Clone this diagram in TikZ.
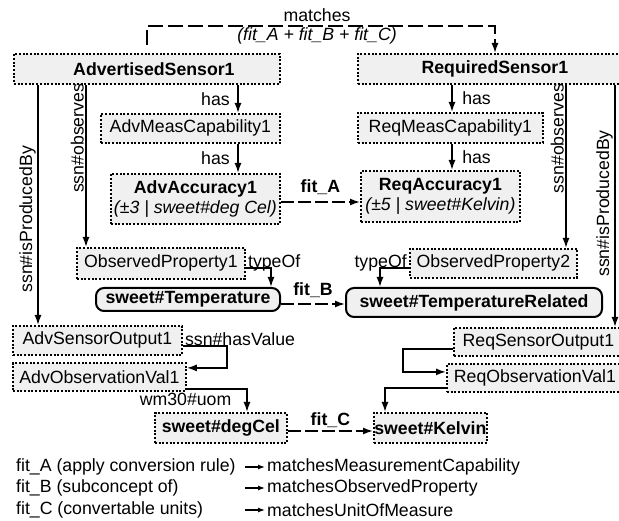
\documentclass[tikz,border=0pt]{standalone}
\usepackage{fontspec}
\setmainfont{Liberation Sans}
\usetikzlibrary{arrows.meta}
\definecolor{boxfill}{RGB}{240,240,240}
\newcommand\fsz{\fontsize{17.7}{20.5}\selectfont}
\begin{document}
\begin{tikzpicture}[x=1pt,y=-1pt,
  font=\fsz,
  box/.style={draw=black, fill=boxfill, line width=1.8pt, dash pattern=on 2pt off 1.7pt, inner sep=0pt, anchor=north west},
  rbox/.style={draw=black, fill=boxfill, line width=2pt, rounded corners=8pt, inner sep=0pt, anchor=north west, font=\fsz\bfseries},
  conn/.style={line width=1.6pt, -{Latex[length=10pt,width=7pt]}},
  dconn/.style={conn, dash pattern=on 13pt off 4pt},
  lbl/.style={inner sep=1.5pt},
  blbl/.style={inner sep=1.5pt, font=\fsz\bfseries},
  legarr/.style={line width=1.2pt, -{Latex[length=7pt,width=5pt]}},
]
\useasboundingbox (0,0) rectangle (619,521);
\clip (0,0) rectangle (619,521);

% nodes
\node[box, font=\fsz\bfseries, minimum width=266pt, minimum height=30pt] (advs) at (13,53) {\hspace*{14pt}AdvertisedSensor1};
\node[box, font=\fsz\bfseries, minimum width=274pt, minimum height=30pt] (reqs) at (357,53) {RequiredSensor1};
\node[box, minimum width=179pt, minimum height=29pt] (advmc) at (100,113) {AdvMeasCapability1};
\node[box, minimum width=185pt, minimum height=30pt] (reqmc) at (357,112) {ReqMeasCapability1};
\node[box, align=center, minimum width=169pt, minimum height=50pt] (advacc) at (110,173) {\textbf{AdvAccuracy1}\\\textit{(±3 | sweet\#deg Cel)}};
\node[box, align=center, minimum width=159pt, minimum height=51pt] (reqacc) at (360,170) {\textbf{ReqAccuracy1}\\\textit{(±5 | sweet\#Kelvin)}};
\node[box, minimum width=168pt, minimum height=31pt] (op1) at (76,247) {ObservedProperty1};
\node[box, minimum width=167pt, minimum height=29pt] (op2) at (409,248) {ObservedProperty2};
\node[rbox, minimum width=184pt, minimum height=23pt] (temp) at (95,287) {sweet\#Temperature};
\node[rbox, minimum width=256pt, minimum height=29pt] (trel) at (345,287) {sweet\#TemperatureRelated};
\node[box, minimum width=169pt, minimum height=29pt] (aso) at (12,325) {AdvSensorOutput1};
\node[box, minimum width=173pt, minimum height=28pt] (aov) at (12,362) {AdvObservationVal1};
\node[box, font=\fsz\bfseries, minimum width=132pt, minimum height=30pt] (degc) at (154,412) {sweet\#degCel};
\node[box, font=\fsz\bfseries, minimum width=113pt, minimum height=30pt] (kel) at (373,412) {sweet\#Kelvin};
\node[box, minimum width=169pt, minimum height=28pt] (rso) at (453,327) {ReqSensorOutput1};
\node[box, minimum width=176pt, minimum height=28pt] (rov) at (446,363) {ReqObservationVal1};

% helper coordinates
\coordinate (xhasL) at (238,0);
\coordinate (xhasR) at (452,0);
\coordinate (xprodL) at (38,0);
\coordinate (xobsL) at (86,0);
\coordinate (xobsR) at (566,0);
\coordinate (xprodR) at (615,0);
\coordinate (xtypL) at (271,0);
\coordinate (xtypR) at (380,0);
\coordinate (yfa) at (0,202);
\coordinate (yfb) at (0,304);
\coordinate (yfc) at (0,431);
\coordinate (mst) at (147,45);
\coordinate (mtop) at (495,26);
\coordinate (hvx) at (227,0);
\coordinate (uomx) at (247,0);
\coordinate (rsx) at (403,0);
\coordinate (kx) at (385,0);
\coordinate (legx) at (245,0);
\coordinate (aovin) at ([yshift=9pt]aov.east);
\coordinate (rovin) at ([yshift=6pt]rov.west);

% matches
\draw[dconn, dash pattern=on 15pt off 5pt] (mst) |- (mtop) -- (reqs.north -| mtop);
\node[lbl, anchor=base] (mlab) at (317,22) {matches};
\node[lbl, anchor=base, font=\fsz\itshape] (mlab2) at (317,41) {(fit\_A + fit\_B + fit\_C)};

% has
\draw[conn] (advs.south -| xhasL) -- node[lbl, left=6pt] (h1) {has} (advmc.north -| xhasL);
\draw[conn] (advmc.south -| xhasL) -- node[lbl, left=6pt] (h2) {has} (advacc.north -| xhasL);
\draw[conn] (reqs.south -| xhasR) -- node[lbl, right=8pt] (h3) {has} (reqmc.north -| xhasR);
\draw[conn] (reqmc.south -| xhasR) -- node[lbl, right=8pt] (h4) {has} (reqacc.north -| xhasR);

% long verticals
\draw[conn] (advs.south -| xprodL) -- node[lbl, pos=0.56, rotate=90, anchor=south] (p1) {ssn\#isProducedBy} (aso.north -| xprodL);
\draw[conn] (advs.south -| xobsL) -- node[lbl, pos=0.33, rotate=90, anchor=south] (o1) {ssn\#observes} (op1.north -| xobsL);
\draw[conn] (reqs.south -| xobsR) -- node[lbl, pos=0.33, rotate=90, anchor=south] (o2) {ssn\#observes} (op2.north -| xobsR);
\draw[conn] (reqs.south -| xprodR) -- node[lbl, pos=0.49, rotate=90, anchor=south] (p2) {ssn\#isProducedBy} (rso.north -| xprodR);

% typeOf
\draw[conn] ([yshift=-4.5pt]op1.east) node[lbl, anchor=base west] (t1) {typeOf} -| (temp.north -| xtypL);
\draw[conn] ([yshift=-4.5pt]op2.west) node[lbl, anchor=base east] (t2) {typeOf} -| (trel.north -| xtypR);

% fits
\draw[dconn] (advacc.east |- yfa) -- node[blbl, anchor=base, yshift=9pt] (fa) {fit\_A} (reqacc.west |- yfa);
\draw[dconn] (temp.east |- yfb) -- node[blbl, anchor=base, yshift=8pt] (fb) {fit\_B} (trel.west |- yfb);
\draw[dconn] (degc.east |- yfc) -- node[blbl, anchor=base, yshift=5pt] (fc) {fit\_C} (kel.west |- yfc);

% lower left
\draw[conn] ([yshift=-5.5pt]aso.east) node[lbl, anchor=base west] (hv) {ssn\#hasValue} -| (hvx |- aovin) -- (aovin);
\draw[conn] ([yshift=-12pt]aov.east) -| (degc.north -| uomx);
\node[lbl, anchor=base east] (uom) at (233,406) {wm30\#uom};

% lower right
\draw[conn] ([yshift=-7pt]rso.west) -| (rsx |- rovin) -- (rovin);
\draw[conn] ([yshift=-10pt]rov.west) -| (kel.north -| kx);

% legend
\node[inner sep=0pt, anchor=west] (la) at (16,467) {fit\_A (apply conversion rule)};
\node[inner sep=0pt, anchor=west] (lb) at (16,488) {fit\_B (subconcept of)};
\node[inner sep=0pt, anchor=west] (lc) at (16,510) {fit\_C (convertable units)};
\node[inner sep=0pt, anchor=west] (ra) at (267,467) {matchesMeasurementCapability};
\node[inner sep=0pt, anchor=west] (rb) at (267,488) {matchesObservedProperty};
\node[inner sep=0pt, anchor=west] (rc) at (267,510) {matchesUnitOfMeasure};
\draw[legarr] (ra.west -| legx) -- ([xshift=-2pt]ra.west);
\draw[legarr] (rb.west -| legx) -- ([xshift=-2pt]rb.west);
\draw[legarr] (rc.west -| legx) -- ([xshift=-2pt]rc.west);
\end{tikzpicture}
\end{document}
